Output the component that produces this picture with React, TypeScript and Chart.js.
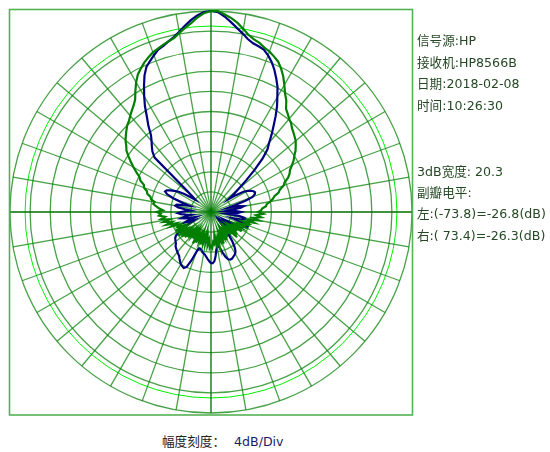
import React, { useEffect, useRef } from "react";
import { Chart, registerables } from "chart.js";

Chart.register(...registerables);

// Angle (degrees, clockwise from top) of each sample
const angles = [
  0, 2, 4, 6, 8, 10, 12, 14, 16, 18, 20, 22, 24, 26, 28, 30, 32, 34, 36, 38,
  40, 42, 44, 46, 48, 50, 52, 54, 56, 58, 60, 62, 64, 66, 68, 70, 72, 74, 76, 78,
  80, 82, 84, 86, 88, 90, 92, 94, 96, 98, 100, 102, 104, 106, 108, 110, 112, 114, 116, 118,
  120, 122, 124, 126, 128, 130, 132, 134, 136, 138, 140, 142, 144, 146, 148, 150, 152, 154, 156, 158,
  160, 162, 164, 166, 168, 170, 172, 174, 176, 178, 180, 182, 184, 186, 188, 190, 192, 194, 196, 198,
  200, 202, 204, 206, 208, 210, 212, 214, 216, 218, 220, 222, 224, 226, 228, 230, 232, 234, 236, 238,
  240, 242, 244, 246, 248, 250, 252, 254, 256, 258, 260, 262, 264, 266, 268, 270, 272, 274, 276, 278,
  280, 282, 284, 286, 288, 290, 292, 294, 296, 298, 300, 302, 304, 306, 308, 310, 312, 314, 316, 318,
  320, 322, 324, 326, 328, 330, 332, 334, 336, 338, 340, 342, 344, 346, 348, 350, 352, 354, 356, 358,
];

// Blue pattern, relative level in dB
const bluePattern = [
  0, -0.2, -1, -2, -3, -3.9, -4.8, -5.4, -5.7, -6, -6.8, -7.8, -9, -10.4, -11.8, -13.6, -15.2, -17, -18.8, -20.4,
  -22, -23.2, -25.2, -28, -30.6, -32.8, -34.2, -35.6, -34, -32.4, -31.6, -31, -30.6, -30.4, -30.6, -31.2, -32.8, -35, -36.4, -34.4,
  -33.4, -34, -36, -37, -35, -34, -34.6, -36.4, -37, -34.4, -33.2, -33, -34, -35.6, -34, -32.6, -32.2, -32.4, -34, -36,
  -37, -36, -35, -35.6, -37, -37.6, -36.4, -35.6, -36, -37.2, -36.4, -34.4, -32.8, -31.6, -30.8, -30.4, -30.2, -30, -29.8, -29.8,
  -30, -30.6, -31.6, -32.6, -33, -33, -32.4, -31.2, -30.2, -29.8, -29.8, -30.2, -30.6, -31, -31.4, -31.6, -31.8, -32.2, -32.4, -32.4,
  -31.6, -29.6, -28, -27.6, -27.8, -28, -28.4, -28.8, -29.2, -29.4, -29.6, -29.8, -30, -30.2, -30.6, -30.8, -31, -31.2, -31.6, -32.4,
  -33.6, -35, -36.4, -35.6, -34.4, -35.2, -36.8, -36, -34.8, -34, -34.8, -36, -35, -34, -33.4, -34, -35, -36, -34.8, -33.4,
  -32.8, -33, -34.4, -35.6, -34, -32, -30.6, -30, -30.2, -30.8, -31.6, -32.4, -33.6, -35, -36, -35.2, -33, -24.4, -23.2, -22.4,
  -21.6, -20.6, -18.8, -17.2, -15.2, -13.4, -11.6, -9.8, -8.4, -7.6, -6.8, -6, -5.6, -5, -4.4, -3.6, -2.6, -1.6, -0.8, -0.2,
];

// Green pattern, relative level in dB
const greenPattern = [
  0, 0, -0.6, -1.2, -2, -3, -4, -4.6, -5, -5.6, -6, -6.6, -7.2, -8.2, -9.4, -10.8, -12.2, -13.2, -14.6, -15.2,
  -15.8, -16.2, -16.8, -17.2, -17.6, -18, -18.6, -19.2, -20, -20.6, -21.4, -22.2, -22.6, -23.2, -24.2, -24.6, -25.6, -26, -27, -27.4,
  -28, -28.8, -29, -29.8, -30, -30.6, -29.6, -31, -30, -31.6, -30.4, -32.4, -31.2, -33.4, -32, -32.4, -34, -32.8, -34.8, -33.2,
  -34.4, -32.8, -35.2, -33.6, -35.6, -33.2, -34.8, -32.8, -35.6, -34, -36, -34.4, -36.4, -34, -35.6, -33.6, -36, -34.4, -35.2, -33.2,
  -35.6, -34, -34.8, -32.8, -34.4, -33.2, -35.2, -33.6, -34, -32.8, -33.2, -32.8, -34.4, -33.4, -35.2, -34, -35.6, -33.6, -34.8, -33.2,
  -35.6, -34, -35.2, -33.2, -34.8, -32.8, -35.2, -33.6, -35.6, -34, -35, -33.2, -35.2, -32.8, -34.4, -32.4, -34.8, -32, -34, -32.8,
  -34.4, -32, -34, -32.8, -33.4, -31.6, -32.8, -30.8, -32, -30.4, -31.6, -30, -30.8, -29.6, -30, -29.2, -30.4, -29.6, -29, -28.4,
  -28.6, -27.8, -27.6, -26.8, -26.6, -25.8, -25.6, -24.6, -24.2, -23.2, -22.2, -21.2, -20.2, -19.2, -18.6, -17.8, -17.2, -16.6, -16, -15.6,
  -15, -14.4, -13.8, -13, -11.6, -10.2, -9, -8.2, -7.4, -6.8, -6.2, -5.8, -5.4, -5, -4.6, -3.8, -3, -2.2, -1.2, -0.4,
];

const scaleMin = -40;
const scaleMax = 0;
const scaleStep = 4;
const refLevel = -3;

const infoLines = [
  { text: "信号源:HP", y: 41 },
  { text: "接收机:HP8566B", y: 62.5 },
  { text: "日期:2018-02-08", y: 84 },
  { text: "时间:10:26:30", y: 105.5 },
  { text: "3dB宽度: 20.3", y: 171.5 },
  { text: "副瓣电平:", y: 193 },
  { text: "左:(-73.8)=-26.8(dB)", y: 214 },
  { text: "右:( 73.4)=-26.3(dB)", y: 235.5 },
];

const FONT = '"DejaVu Sans", "Noto Sans CJK SC", sans-serif';

const framePlugin = {
  id: "frame",
  beforeDatasetsDraw(chart: any) {
    const { ctx, chartArea: a } = chart;
    ctx.save();
    ctx.strokeStyle = "#55b255";
    ctx.lineWidth = 1.6;
    ctx.strokeRect(a.left - 0.5, a.top - 0.5, a.right - a.left + 1, a.bottom - a.top + 1.5);
    ctx.restore();
  },
};

export default function App() {
  const ref = useRef<HTMLCanvasElement | null>(null);

  useEffect(() => {
    if (!ref.current) return;
    const chart = new Chart(ref.current, {
      type: "radar",
      data: {
        labels: angles.map((a) => String(a)),
        datasets: [
          {
            label: "green",
            data: greenPattern,
            borderColor: "#007f00",
            borderWidth: 2.2,
            pointRadius: 0,
            fill: false,
            tension: 0,
          },
          {
            label: "blue",
            data: bluePattern,
            borderColor: "#00007f",
            borderWidth: 2.2,
            pointRadius: 0,
            fill: false,
            tension: 0,
          },
        ],
      },
      options: {
        animation: false,
        responsive: false,
        devicePixelRatio: 1,
        layout: { padding: 10 },
        plugins: { legend: { display: false }, tooltip: { enabled: false } },
        elements: { point: { radius: 0 } },
        scales: {
          r: {
            min: scaleMin,
            max: scaleMax,
            startAngle: 0,
            beginAtZero: false,
            ticks: { display: false, stepSize: scaleStep },
            afterBuildTicks: (s: any) => {
              s.ticks.push({ value: refLevel });
            },
            pointLabels: { display: false },
            grid: {
              circular: true,
              color: (c: any) =>
                c.tick && c.tick.value === refLevel ? "#00f000" : "rgba(10,130,10,0.75)",
              lineWidth: (c: any) => (c.tick && c.tick.value === refLevel ? 1 : 1.3),
            },
            angleLines: {
              display: true,
              color: (c: any) => (c.index % 45 === 0 ? "#007000" : "rgba(10,130,10,0.75)"),
              lineWidth: (c: any) => (c.index % 5 === 0 ? 1.3 : 0),
            },
          },
        },
      },
      plugins: [framePlugin],
    } as any);
    return () => chart.destroy();
  }, []);

  return (
    <div
      style={{
        position: "absolute",
        left: 0,
        top: 0,
        width: 550,
        height: 452,
        background: "#fff",
        overflow: "hidden",
      }}
    >
      <canvas
        ref={ref}
        width={422}
        height={424}
        style={{ position: "absolute", left: 0, top: 0, width: 422, height: 424 }}
      />
      {infoLines.map((l, i) => (
        <div
          key={i}
          style={{
            position: "absolute",
            left: 417,
            top: l.y - 8,
            height: 16,
            lineHeight: "16px",
            fontFamily: FONT,
            fontSize: 12.6,
            color: "#244824",
            whiteSpace: "pre",
          }}
        >
          {l.text}
        </div>
      ))}
      <div
        style={{
          position: "absolute",
          left: 162,
          top: 441.5 - 8,
          lineHeight: "16px",
          fontFamily: FONT,
          fontSize: 12.6,
          color: "#222",
          whiteSpace: "pre",
        }}
      >
        幅度刻度：
      </div>
      <div
        style={{
          position: "absolute",
          left: 234,
          top: 441.5 - 8,
          lineHeight: "16px",
          fontFamily: FONT,
          fontSize: 12.6,
          color: "#1c1c66",
          whiteSpace: "pre",
        }}
      >
        4dB/Div
      </div>
    </div>
  );
}
